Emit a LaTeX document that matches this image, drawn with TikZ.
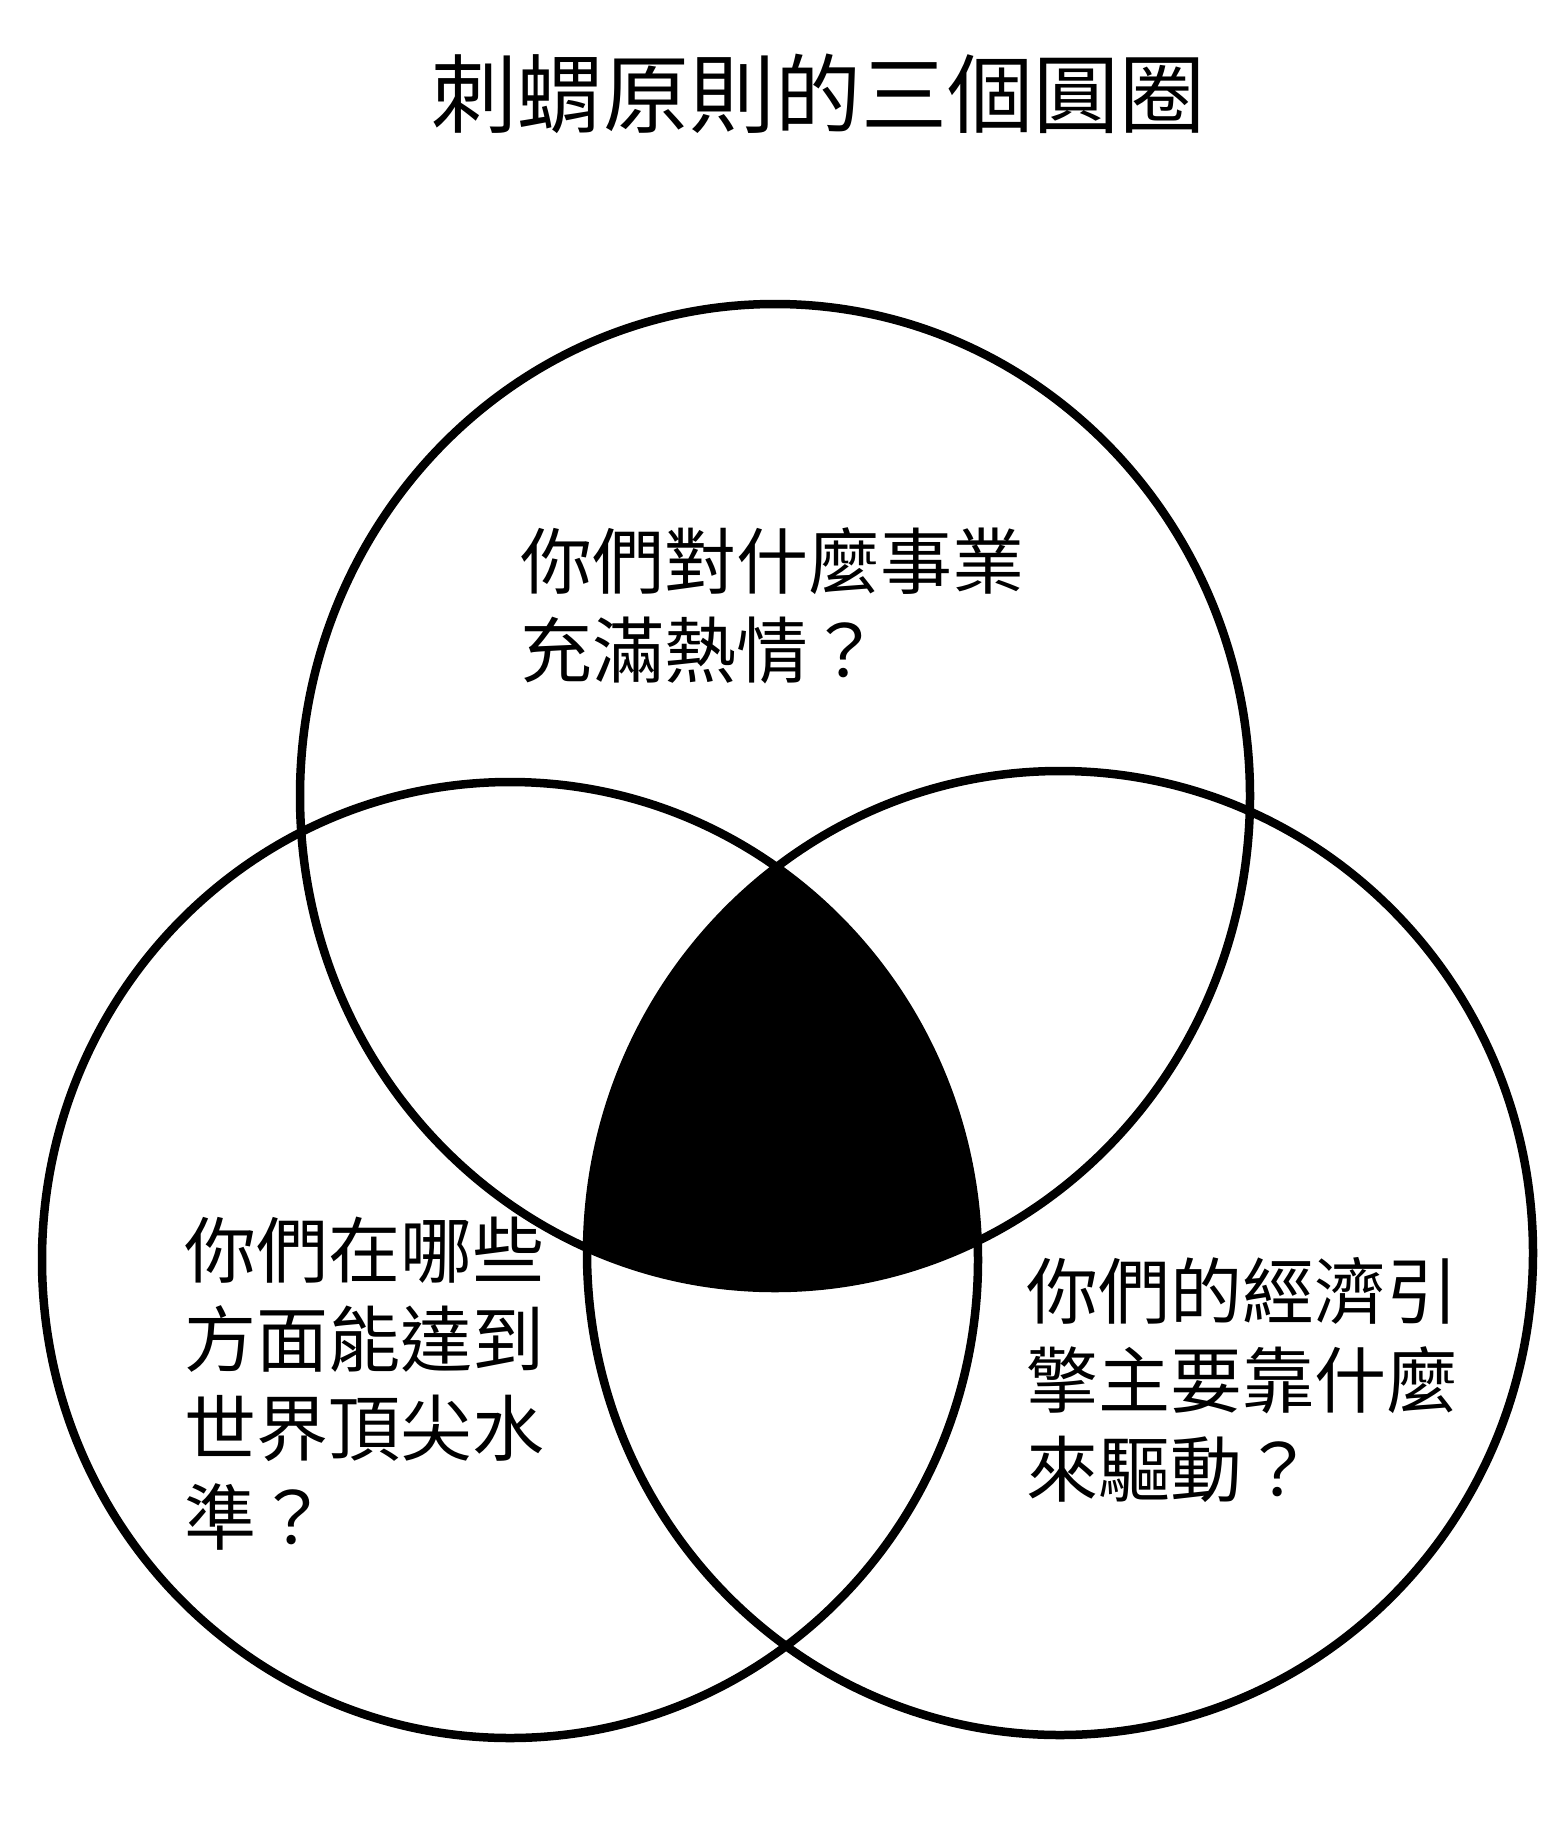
\documentclass[tikz,border=0pt]{standalone}
\usepackage{fontspec}
\setmainfont{Noto Sans CJK TC}
\usetikzlibrary{positioning}

\begin{document}
\begin{tikzpicture}[
		x=1pt, y=-1pt,
		ring/.style={draw, line width=8.5pt},
		question/.style={anchor=north west, inner sep=0pt, align=left, font=\fontsize{72}{89}\selectfont},
		heading/.style={inner sep=0pt, font=\fontsize{86}{100}\selectfont}
		]
		
		% Page
		\useasboundingbox (0,0) rectangle (1563,1839);
		
		% Black middle part
		\begin{scope}
			\clip (775,796) ellipse [x radius=475, y radius=492];
			\clip (510,1260) ellipse [x radius=468, y radius=478];
			\fill (1060,1253) ellipse [x radius=473, y radius=482];
		\end{scope}
		
		% Three circles
		\draw[ring] (775,796) ellipse [x radius=475, y radius=492];
		\draw[ring] (510,1260) ellipse [x radius=468, y radius=478];
		\draw[ring] (1060,1253) ellipse [x radius=473, y radius=482];
		
		% Title
		\node[heading] (title) at (818,94) {刺蝟原則的三個圓圈};
		
		% Questions
		\node[question] (passion) at (520,527) {你們對什麼事業\\充滿熱情？};
		\node[question] (best) at (184,1217) {你們在哪些\\方面能達到\\世界頂尖水\\準？};
		\node[question] (engine) at (1026,1257) {你們的經濟引\\擎主要靠什麼\\來驅動？};
		
	\end{tikzpicture}
\end{document}
